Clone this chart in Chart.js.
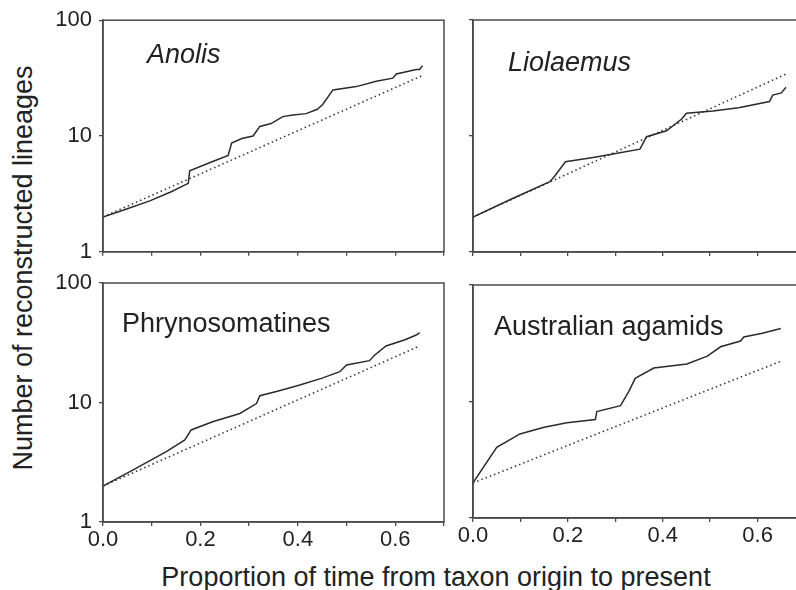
<!DOCTYPE html>
<html>
<head>
<meta charset="utf-8">
<script src="https://cdn.jsdelivr.net/npm/chart.js@4/dist/chart.umd.min.js"></script>
<style>
  body { margin: 0; width: 796px; height: 590px; overflow: hidden; background: #fff; position: relative; font-family: "Liberation Sans", Arial, sans-serif; color: #222; }
  canvas { position: absolute; }
  .lab { position: absolute; font-size: 27px; line-height: 27px; white-space: nowrap; }
  .it { font-style: italic; }
  #ytitle { position: absolute; left: -227px; top: 253px; width: 500px; height: 30px; line-height: 30px; font-size: 27px; text-align: center; transform: rotate(-90deg); white-space: nowrap; }
  #xtitle { position: absolute; left: 0; top: 564px; width: 872px; font-size: 27px; line-height: 27px; text-align: center; white-space: nowrap; }
</style>
</head>
<body>
<div id="ytitle">Number of reconstructed lineages</div>
<div id="xtitle">Proportion of time from taxon origin to present</div>

<script>
//----- Data -----//

    var yTicks = [1, 10, 100]
    var xLabels = ['0.0', '0.2', '0.4', '0.6']

    // Anolis
    var anolisX = [0, 0.05, 0.096, 0.14, 0.175, 0.178, 0.22, 0.257, 0.264, 0.285, 0.308, 0.322, 0.345, 0.369, 0.39, 0.417, 0.44, 0.451, 0.472, 0.52, 0.561, 0.595, 0.602, 0.643, 0.65, 0.656]
    var anolisY = [2, 2.35, 2.75, 3.3, 3.9, 5.0, 5.9, 6.8, 8.7, 9.5, 10, 12.1, 12.8, 14.7, 15.2, 15.6, 17.0, 18.7, 25, 26.7, 29.7, 31.6, 34.3, 37.5, 37.5, 40.5]
    var anolisExpX = [0, 0.656]
    var anolisExpY = [2, 33.3]

    // Liolaemus
    var liolX = [0, 0.08, 0.162, 0.172, 0.195, 0.25, 0.295, 0.352, 0.366, 0.408, 0.44, 0.45, 0.506, 0.56, 0.625, 0.632, 0.65, 0.66]
    var liolY = [2, 2.85, 4.04, 4.5, 6.0, 6.5, 7.0, 7.7, 9.87, 11.1, 14, 15.7, 16.4, 17.5, 19.8, 22.5, 23.5, 26.3]
    var liolExpX = [0, 0.66]
    var liolExpY = [2, 34.2]

    // Phrynosomatines
    var phryX = [0, 0.06, 0.13, 0.168, 0.181, 0.225, 0.281, 0.315, 0.322, 0.36, 0.404, 0.45, 0.486, 0.5, 0.547, 0.558, 0.581, 0.62, 0.643, 0.65]
    var phryY = [2, 2.7, 3.88, 4.86, 5.89, 6.9, 8.1, 9.8, 11.4, 12.5, 14.0, 16, 18.1, 20.6, 22.4, 25, 29.7, 33.5, 36.7, 38.4]
    var phryExpX = [0, 0.65]
    var phryExpY = [2, 29.7]

    // Australian agamids
    var agamX = [0, 0.05, 0.099, 0.15, 0.198, 0.258, 0.261, 0.311, 0.328, 0.342, 0.381, 0.451, 0.494, 0.522, 0.564, 0.571, 0.61, 0.649]
    var agamY = [2, 4.04, 5.27, 6.0, 6.57, 7.0, 8.2, 9.2, 12.1, 15.8, 19.4, 21, 24.5, 29.5, 33, 35.8, 38.5, 42.3]
    var agamExpX = [0, 0.652]
    var agamExpY = [2, 22.4]

//----- Helpers -----//

    const toPts = (xs, ys) => xs.map((x, i) => ({ x: x, y: ys[i] }))

    const boxPlugin = {
        id: 'box',
        afterDraw(chart) {
            const a = chart.chartArea
            const ctx = chart.ctx
            ctx.save()
            ctx.strokeStyle = '#4a4a4a'
            ctx.lineWidth = 1.5
            ctx.strokeRect(a.left, a.top, a.right - a.left, a.bottom - a.top)
            ctx.restore()
        }
    }

    function makePanel(p) {
        var canvas = document.createElement('canvas')
        canvas.width = p.w
        canvas.height = p.h
        canvas.style.left = p.left + 'px'
        canvas.style.top = p.top + 'px'
        document.body.appendChild(canvas)

        var label = document.createElement('div')
        label.className = 'lab' + (p.italic ? ' it' : '')
        label.textContent = p.name
        label.style.left = p.nameX + 'px'
        label.style.top = p.nameY + 'px'
        document.body.appendChild(label)

        new Chart(canvas, {
            type: 'line',
            data: {
                datasets: [{
                    data: toPts(p.xs, p.ys),
                    borderColor: '#2b2b2b',
                    borderWidth: 1.5,
                    pointRadius: 0,
                    tension: 0
                }, {
                    data: toPts(p.ex, p.ey),
                    borderColor: '#3a3a3a',
                    borderWidth: 1.6,
                    borderDash: [1.5, 3],
                    pointRadius: 0,
                    tension: 0
                }]
            },
            options: {
                responsive: false,
                animation: false,
                layout: { padding: { top: p.padTop, right: p.padRight, left: 0, bottom: 0 } },
                plugins: { legend: { display: false }, tooltip: { enabled: false } },
                scales: {
                    x: {
                        type: 'linear',
                        min: 0,
                        max: 0.7,
                        afterFit: (scale) => { scale.height = p.xH },
                        grid: { display: true, drawOnChartArea: false, drawTicks: true, tickLength: 4, color: '#4a4a4a', lineWidth: 1.3 },
                        border: { display: true, color: '#4a4a4a', width: 1.5 },
                        ticks: {
                            display: p.showX,
                            stepSize: 0.1,
                            autoSkip: false,
                            maxRotation: 0,
                            padding: 1,
                            color: '#222',
                            font: { family: '"Liberation Sans", Arial, sans-serif', size: 22 },
                            callback: (v) => {
                                var k = Math.round(v * 10)
                                return (k % 2 === 0 && k / 2 < xLabels.length) ? xLabels[k / 2] : ''
                            }
                        }
                    },
                    y: {
                        type: 'logarithmic',
                        min: 1,
                        max: 100,
                        afterBuildTicks: (scale) => { scale.ticks = yTicks.map((v) => ({ value: v })) },
                        afterFit: (scale) => { scale.width = p.yW },
                        grid: { display: true, drawOnChartArea: false, drawTicks: true, tickLength: 4, color: '#4a4a4a', lineWidth: 1.3 },
                        border: { display: true, color: '#4a4a4a', width: 1.5 },
                        ticks: {
                            display: p.showY,
                            padding: 7,
                            color: '#222',
                            font: { family: '"Liberation Sans", Arial, sans-serif', size: 22 },
                            callback: (v) => String(v)
                        }
                    }
                }
            },
            plugins: [boxPlugin]
        })
    }

//----- Create Panels -----//

    makePanel({ name: 'Anolis', italic: true, nameX: 147, nameY: 41, left: 0, top: 0, w: 450, h: 272, padTop: 16, padRight: 6, yW: 103, xH: 16, showX: false, showY: true, xs: anolisX, ys: anolisY, ex: anolisExpX, ey: anolisExpY })
    makePanel({ name: 'Liolaemus', italic: true, nameX: 508, nameY: 49, left: 400, top: 0, w: 410, h: 272, padTop: 20, padRight: 5, yW: 73, xH: 20, showX: false, showY: false, xs: liolX, ys: liolY, ex: liolExpX, ey: liolExpY })
    makePanel({ name: 'Phrynosomatines', italic: false, nameX: 122, nameY: 310, left: 0, top: 262, w: 450, h: 328, padTop: 21, padRight: 6, yW: 103, xH: 68, showX: true, showY: true, xs: phryX, ys: phryY, ex: phryExpX, ey: phryExpY })
    makePanel({ name: 'Australian agamids', italic: false, nameX: 494, nameY: 313, left: 400, top: 262, w: 410, h: 328, padTop: 23, padRight: 5, yW: 73, xH: 72, showX: true, showY: false, xs: agamX, ys: agamY, ex: agamExpX, ey: agamExpY })
</script>
</body>
</html>
